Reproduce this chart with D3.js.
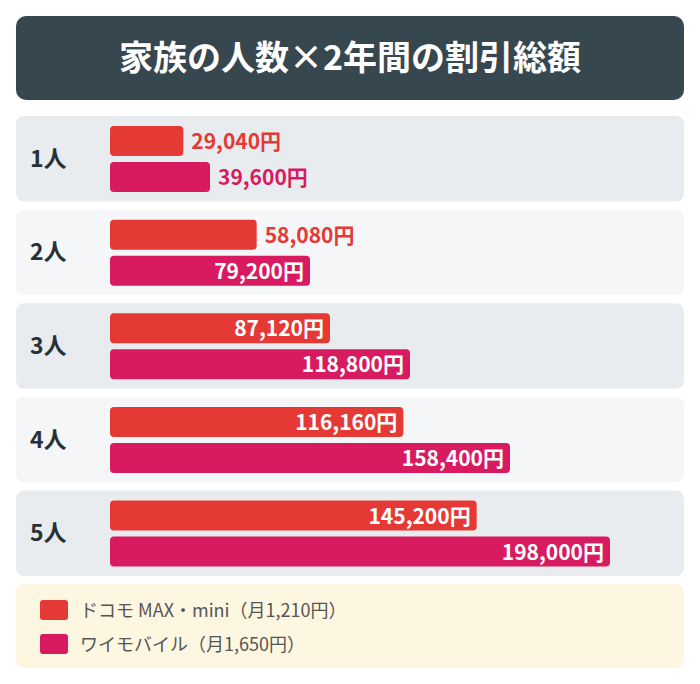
<!DOCTYPE html>
<html><head><meta charset="utf-8">
<script src="https://cdn.jsdelivr.net/npm/d3@7"></script>
<style>body{margin:0;background:#fff;font-family:"Noto Sans CJK JP","Noto Sans",sans-serif;}</style>
</head><body>
<svg id="c" width="700" height="684"></svg>
<script>
const title = "家族の人数×2年間の割引総額";
const categories = ["1人","2人","3人","4人","5人"];
const docomo = [29040,58080,87120,116160,145200];
const ymobile = [39600,79200,118800,158400,198000];
const seriesNames = ["ドコモ MAX・mini（月1,210円）","ワイモバイル（月1,650円）"];
const colors = ["#e53935","#d81b60"];

const svg = d3.select("#c");
svg.append("rect").attr("x",16).attr("y",16).attr("width",668).attr("height",84).attr("rx",10).attr("fill","#37474f");
svg.append("text").attr("x",350).attr("y",70).attr("text-anchor","middle").attr("fill","#fff")
  .attr("font-size",34).attr("font-weight",700).text(title);

const x = d3.scaleLinear().domain([0,198000]).range([110,610]);
const rowY = d3.scaleBand().domain(categories).range([116,576]).paddingInner(0.087).paddingOuter(0);
const fmt = d3.format(",");
categories.forEach((c,i)=>{
  const y0 = rowY(c), h = rowY.bandwidth();
  svg.append("rect").attr("x",16).attr("y",y0).attr("width",668).attr("height",h).attr("rx",8)
    .attr("fill", i%2===0 ? "#e9ecef" : "#f5f6f8");
  svg.append("text").attr("x",30).attr("y",y0+h/2+8).attr("font-size",23).attr("font-weight",700)
    .attr("fill","#263238").text(c);
  [docomo[i], ymobile[i]].forEach((v,j)=>{
    const by = y0+10+j*36, bh=30;
    const w = x(v)-x(0);
    svg.append("rect").attr("x",x(0)).attr("y",by).attr("width",w).attr("height",bh).attr("rx",4).attr("fill",colors[j]);
    const inside = w>180;
    svg.append("text").attr("x", inside? x(v)-6 : x(v)+8).attr("y",by+bh/2+8)
      .attr("text-anchor", inside?"end":"start").attr("font-size",21).attr("font-weight",700)
      .attr("fill", inside?"#fff":colors[j]).text(fmt(v)+"円");
  });
});
svg.append("rect").attr("x",16).attr("y",584).attr("width",668).attr("height",84).attr("rx",8).attr("fill","#fdf6e0");
seriesNames.forEach((n,j)=>{
  const y = 600+j*34;
  svg.append("rect").attr("x",40).attr("y",y).attr("width",28).attr("height",20).attr("rx",3).attr("fill",colors[j]);
  svg.append("text").attr("x",80).attr("y",y+17).attr("font-size",18).attr("fill","#555").text(n);
});
</script>
</body></html>
